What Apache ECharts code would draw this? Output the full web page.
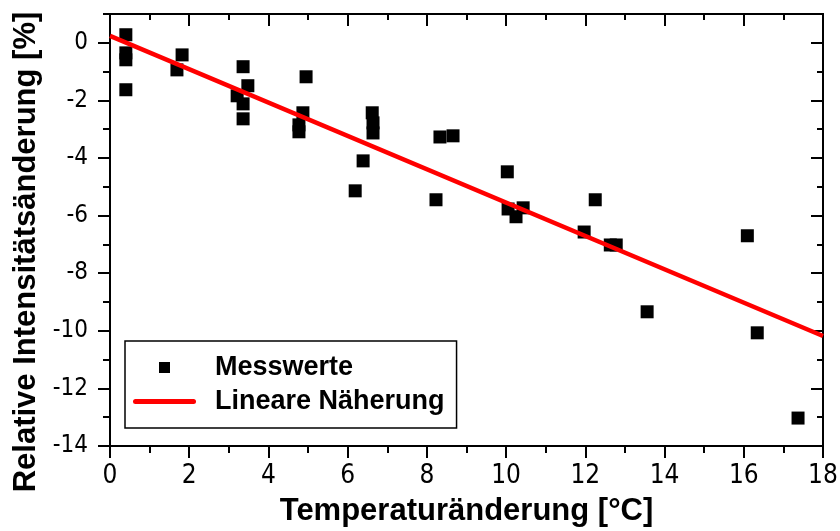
<!DOCTYPE html>
<html>
<head>
<meta charset="utf-8">
<script src="https://cdn.jsdelivr.net/npm/echarts@6/dist/echarts.min.js"></script>
<style>
  html, body { margin: 0; padding: 0; background: #fff; }
  #chart { width: 840px; height: 531px; }
</style>
</head>
<body>
<div id="chart"></div>
<script>
// Messwerte (Temperaturänderung [°C], Relative Intensitätsänderung [%])
const measX = [0.40, 0.40, 0.40, 0.40, 1.69, 1.82, 3.36, 3.48, 3.21, 3.36, 3.36, 4.77, 4.77, 4.95, 4.87,
               6.62, 6.64, 6.64, 6.39, 6.19, 8.33, 8.66, 8.23, 10.03, 10.05, 10.25, 10.43, 12.25, 11.97,
               12.63, 12.78, 13.56, 16.09, 16.34, 17.37];
const measY = [0.28, -0.35, -0.59, -1.63, -0.94, -0.42, -0.83, -1.49, -1.84, -2.12, -2.64, -2.85, -3.09, -1.18, -2.43,
               -2.43, -2.78, -3.13, -4.10, -5.14, -3.27, -3.23, -5.45, -4.48, -5.77, -6.04, -5.73, -5.45, -6.57,
               -7.02, -7.02, -9.34, -6.70, -10.07, -13.03];
// Lineare Näherung endpoints
const fitX = [0, 18];
const fitY = [0.24, -10.18];
// ticks
const yMajorTicks = [-14, -12, -10, -8, -6, -4, -2, 0];
const yMinorTicks = [-13, -11, -9, -7, -5, -3, -1, 1];

const scatterData = measX.map((x, i) => [x, measY[i]]);
const lineData = fitX.map((x, i) => [x, fitY[i]]);

const black = '#000';
const narrow = "'Liberation Sans Narrow', 'DejaVu Sans Condensed', Arial, sans-serif";
const sans = "'Liberation Sans', Arial, sans-serif";
const axisLine = { show: true, onZero: false, lineStyle: { color: black, width: 2 } };

function yAxisPart(pos, ticks, len, inside, withLabel) {
  return {
    type: 'value', position: pos, min: -14, max: 1,
    axisLine: axisLine,
    splitLine: { show: false },
    axisTick: { show: true, inside: inside, length: len, customValues: ticks,
                lineStyle: { color: black, width: 2 } },
    axisLabel: withLabel ? { show: true, customValues: yMajorTicks, fontFamily: narrow, fontSize: 24,
                color: black, margin: 22 } : { show: false },
    minorTick: { show: false }
  };
}

const chart = echarts.init(document.getElementById('chart'), null, { renderer: 'canvas' });
chart.setOption({
  animation: false,
  backgroundColor: '#fff',
  grid: { left: 110, right: 17, top: 14, bottom: 85, containLabel: false, outerBoundsMode: 'none' },
  legend: {
    orient: 'vertical', left: 125, top: 341,
    padding: [13, 12, 13, 8], itemGap: 7,
    itemWidth: 63, itemHeight: 11, symbolKeepAspect: true,
    borderColor: black, borderWidth: 1.5, backgroundColor: '#fff',
    textStyle: { fontFamily: sans, fontWeight: 'bold', fontSize: 27, color: black, padding: [0, 0, 0, 14] },
    data: [
      { name: 'Messwerte', icon: 'path://M0,0h11v11h-11z', itemStyle: { color: black, opacity: 1 } },
      { name: 'Lineare Näherung', icon: 'path://M2.5,0h58a2.5,2.5,0,0,1,0,5h-58a2.5,2.5,0,0,1,0,-5z',
        itemStyle: { color: '#ff0000' } }
    ]
  },
  xAxis: [
    {
      type: 'value', position: 'bottom', min: 0, max: 18, interval: 2,
      name: 'Temperaturänderung [°C]', nameLocation: 'middle', nameGap: 50,
      nameTextStyle: { fontFamily: sans, fontWeight: 'bold', fontSize: 31, color: black },
      axisLine: axisLine, splitLine: { show: false },
      axisTick: { show: true, length: 12, lineStyle: { color: black, width: 2 } },
      minorTick: { show: true, splitNumber: 2, length: 7, lineStyle: { color: black, width: 2 } },
      axisLabel: { fontFamily: narrow, fontSize: 26, color: black, margin: 17 }
    },
    {
      type: 'value', position: 'top', min: 0, max: 18, interval: 2,
      axisLine: axisLine, splitLine: { show: false },
      axisTick: { show: true, inside: true, length: 12, lineStyle: { color: black, width: 2 } },
      minorTick: { show: true, splitNumber: 2, length: 6, lineStyle: { color: black, width: 2 } },
      axisLabel: { show: false }
    }
  ],
  yAxis: [
    Object.assign(yAxisPart('left', yMajorTicks, 12, false, true), {
      name: 'Relative Intensitätsänderung [%]', nameLocation: 'middle', nameGap: 66, nameRotate: 90,
      nameTextStyle: { fontFamily: sans, fontWeight: 'bold', fontSize: 31, color: black, padding: [0, 44, 0, 0] }
    }),
    yAxisPart('left', yMinorTicks, 7, false, false),
    yAxisPart('right', yMajorTicks, 12, true, false),
    yAxisPart('right', yMinorTicks, 6, true, false)
  ],
  series: [
    {
      name: 'Messwerte', type: 'scatter', xAxisIndex: 0, yAxisIndex: 0,
      symbol: 'rect', symbolSize: 13,
      itemStyle: { color: black, opacity: 1 },
      data: scatterData, z: 3
    },
    {
      name: 'Lineare Näherung', type: 'line', xAxisIndex: 0, yAxisIndex: 0,
      showSymbol: false, symbol: 'none',
      lineStyle: { color: '#ff0000', width: 4.5 },
      itemStyle: { color: '#ff0000' },
      data: lineData, z: 4
    }
  ]
});
</script>
</body>
</html>
